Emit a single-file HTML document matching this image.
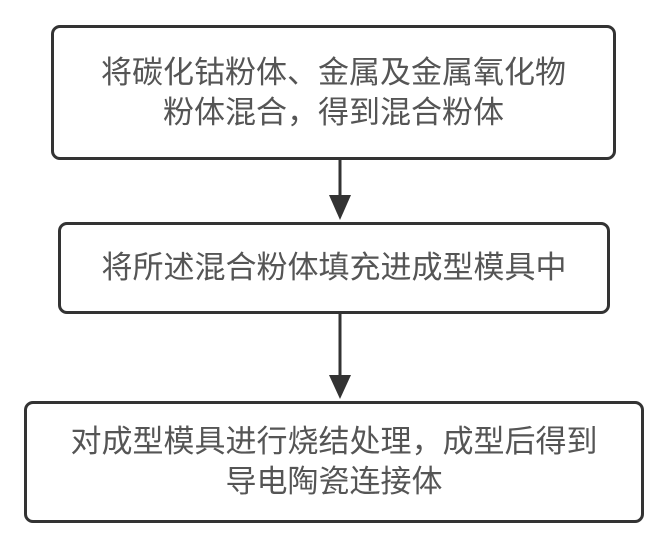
<!DOCTYPE html>
<html><head><meta charset="utf-8"><style>
html,body{margin:0;padding:0;background:#fff;}
body{width:668px;height:549px;position:relative;overflow:hidden;font-family:"Liberation Sans","Noto Sans CJK SC",sans-serif;}
.b{position:absolute;border:3px solid #333;border-radius:9px;box-sizing:border-box;display:flex;align-items:center;justify-content:center;text-align:center;color:#555;font-size:31px;line-height:40px;letter-spacing:0px;}
</style></head><body>
<div class="b" style="left:51px;top:25px;width:565px;height:135px;">将碳化钴粉体、金属及金属氧化物<br>粉体混合，得到混合粉体</div>
<div class="b" style="left:58px;top:222px;width:552px;height:92px;">将所述混合粉体填充进成型模具中</div>
<div class="b" style="left:24px;top:401px;width:620px;height:122px;">对成型模具进行烧结处理，成型后得到<br>导电陶瓷连接体</div>
<svg width="668" height="549" style="position:absolute;left:0;top:0">
<line x1="340" y1="160" x2="340" y2="200" stroke="#333" stroke-width="3"/>
<polygon points="329,195 351,195 340,220" fill="#333"/>
<line x1="340" y1="314" x2="340" y2="380" stroke="#333" stroke-width="3"/>
<polygon points="329,375 351,375 340,399" fill="#333"/>
</svg>
</body></html>
